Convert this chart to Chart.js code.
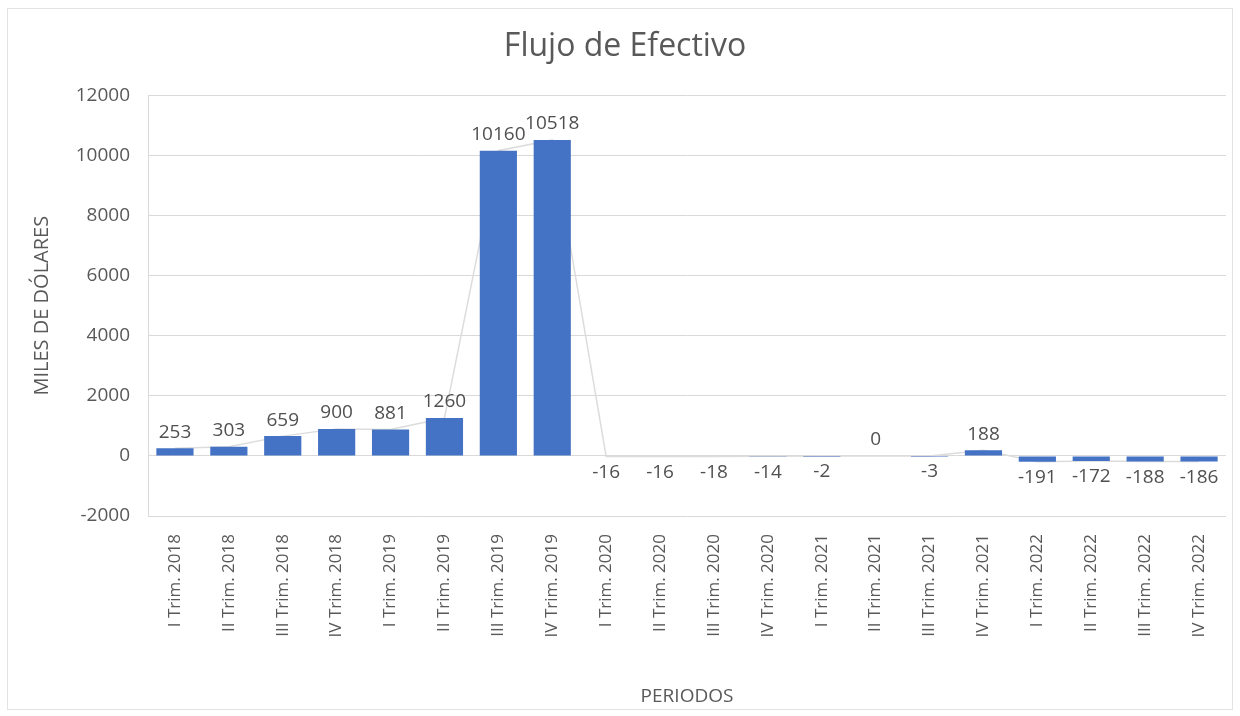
<!DOCTYPE html>
<html>
<head>
<meta charset="utf-8">
<script src="https://cdn.jsdelivr.net/npm/chart.js@4.4.1/dist/chart.umd.min.js"></script>
<style>
  html, body { margin: 0; padding: 0; background: #fff; }
  #wrap { position: relative; width: 1240px; height: 716px; }
  #frame { position: absolute; left: 7px; top: 8px; width: 1224px; height: 700px; border: 1px solid #e3e3e3; pointer-events: none; }
</style>
</head>
<body>
<div id="wrap">
  <canvas id="flujoChart" width="1240" height="716"></canvas>
  <div id="frame"></div>
</div>
<script>
const periodos = [
  "I Trim. 2018", "II Trim. 2018", "III Trim. 2018", "IV Trim. 2018",
  "I Trim. 2019", "II Trim. 2019", "III Trim. 2019", "IV Trim. 2019",
  "I Trim. 2020", "II Trim. 2020", "III Trim. 2020", "IV Trim. 2020",
  "I Trim. 2021", "II Trim. 2021", "III Trim. 2021", "IV Trim. 2021",
  "I Trim. 2022", "II Trim. 2022", "III Trim. 2022", "IV Trim. 2022",
];
const flujo = [253, 303, 659, 900, 881, 1260, 10160, 10518, -16, -16, -18, -14, -2, 0, -3, 188, -191, -172, -188, -186];
const yTicks = [-2000, 0, 2000, 4000, 6000, 8000, 10000, 12000];

const FONT = "'Open Sans', 'Liberation Sans', sans-serif";
const TEXT = "#595959";

// etiquetas de valor encima / debajo de cada barra
const barLabels = {
  id: "barLabels",
  afterDatasetsDraw(chart) {
    const ctx = chart.ctx;
    const meta = chart.getDatasetMeta(0);
    ctx.save();
    ctx.font = "19px " + FONT;
    ctx.fillStyle = "#505050";
    ctx.textAlign = "center";
    ctx.textBaseline = "middle";
    meta.data.forEach((bar, i) => {
      const v = flujo[i];
      const y = v >= 0 ? bar.y - 16 : bar.y + 16;
      ctx.fillText(String(v), bar.x, y);
    });
    ctx.restore();
  },
};

new Chart(document.getElementById("flujoChart"), {
  data: {
    labels: periodos,
    datasets: [
      {
        type: "bar",
        data: flujo,
        backgroundColor: "#4472C4",
        barPercentage: 0.69,
        categoryPercentage: 1,
        order: 1,
      },
      {
        type: "line",
        data: flujo,
        borderColor: "#dcdcdc",
        borderWidth: 1.5,
        pointRadius: 0,
        tension: 0,
        order: 2,
      },
    ],
  },
  options: {
    responsive: false,
    animation: false,
    layout: { padding: { left: 24, right: 14, top: 0, bottom: 0 } },
    plugins: {
      legend: { display: false },
      tooltip: { enabled: false },
      title: {
        display: true,
        text: "Flujo de Efectivo",
        color: TEXT,
        font: { family: FONT, size: 32, weight: "normal" },
        padding: { top: 28, bottom: 29 },
      },
    },
    scales: {
      x: {
        offset: true,
        afterFit: (s) => { s.height = 200; },
        grid: { display: false },
        border: { display: false },
        ticks: {
          color: TEXT,
          font: { family: FONT, size: 17 },
          maxRotation: 90,
          minRotation: 90,
          autoSkip: false,
          padding: 10,
        },
        title: {
          display: true,
          text: "PERIODOS",
          color: TEXT,
          font: { family: FONT, size: 19 },
          padding: { top: 0, bottom: 8 },
        },
      },
      y: {
        min: -2000,
        max: 12000,
        afterFit: (s) => { s.width = 124; },
        afterBuildTicks: (scale) => {
          scale.ticks = yTicks.map((v) => ({ value: v }));
        },
        grid: { color: "#d9d9d9", lineWidth: 1, drawTicks: false },
        border: { display: true, color: "#d9d9d9" },
        ticks: {
          color: TEXT,
          font: { family: FONT, size: 19 },
          padding: 18,
          callback: (v) => String(v),
        },
        title: {
          display: true,
          text: "MILES DE DÓLARES",
          color: TEXT,
          font: { family: FONT, size: 20 },
          padding: { top: 6, bottom: 0 },
        },
      },
    },
  },
  plugins: [barLabels],
});
</script>
</body>
</html>
